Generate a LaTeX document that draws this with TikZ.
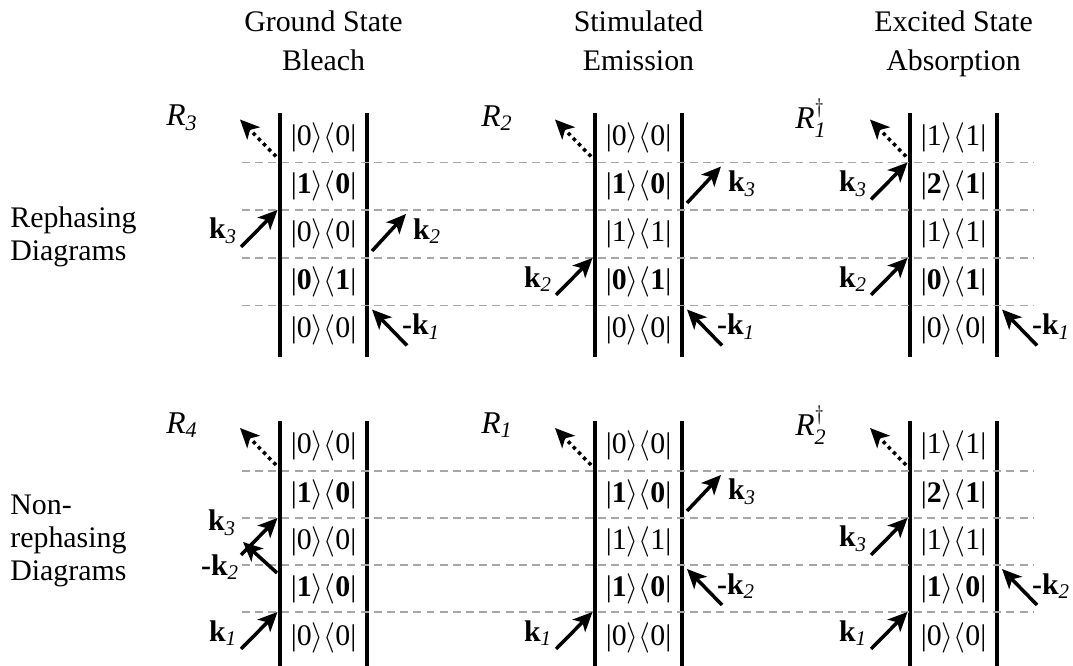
\documentclass[tikz,border=0pt]{standalone}
\usepackage{amsmath}
\usepackage{fontspec}
\setmainfont{Liberation Serif}
\usetikzlibrary{arrows.meta}

\newcommand{\kbr}[2]{|#1$\rangle\langle$#2|}

\tikzset{
  bar/.style={line width=2.3pt},
  rung/.style={gray!70, line width=0.6pt, dash pattern=on 4.5pt off 3pt},
  pulse/.style={-{Stealth[length=11pt,width=10pt,inset=2.8pt]}, line width=2pt},
  emit/.style={pulse, dash pattern=on 2pt off 2.2pt},
  ket/.style={font=\fontsize{17}{20}\selectfont},
  klab/.style={font=\fontsize{17}{20}\selectfont},
  rlab/.style={font=\fontsize{18}{21}\selectfont},
  head/.style={font=\fontsize{17}{22}\selectfont, align=center, anchor=north, inner sep=0pt},
  side/.style={font=\fontsize{17}{19}\selectfont, align=left, anchor=west, inner sep=0pt},
}

\begin{document}
\begin{tikzpicture}
\useasboundingbox (0,0) rectangle (21.46,13.32);

% column and row titles
\node[head] (gsb) at (6.47,13.24) {\strut Ground State\\Bleach};
\node[head] (se) at (12.77,13.24) {\strut Stimulated\\Emission};
\node[head] (esa) at (19.07,13.24) {\strut Excited State\\Absorption};
\node[side] (reph) at (0.2,8.58) {Rephasing\\Diagrams};
\node[side] (nonreph) at (0.2,2.50) {Non-\\rephasing\\Diagrams};

% double-sided bars
\draw[bar] (5.60,11.05) -- (5.60,6.18);
\draw[bar] (7.34,11.05) -- (7.34,6.18);
\draw[bar] (11.90,11.05) -- (11.90,6.18);
\draw[bar] (13.64,11.05) -- (13.64,6.18);
\draw[bar] (18.20,11.05) -- (18.20,6.18);
\draw[bar] (19.94,11.05) -- (19.94,6.18);
\draw[bar] (5.60,4.90) -- (5.60,0);
\draw[bar] (7.34,4.90) -- (7.34,0);
\draw[bar] (11.90,4.90) -- (11.90,0);
\draw[bar] (13.64,4.90) -- (13.64,0);
\draw[bar] (18.20,4.90) -- (18.20,0);
\draw[bar] (19.94,4.90) -- (19.94,0);

% time steps
\draw[rung] (4.84,10.07) -- (20.66,10.07);
\draw[rung] (4.84,9.12) -- (20.66,9.12);
\draw[rung] (4.84,8.16) -- (20.66,8.16);
\draw[rung] (4.84,7.21) -- (20.66,7.21);
\draw[rung] (4.84,3.90) -- (20.66,3.90);
\draw[rung] (4.84,2.96) -- (20.66,2.96);
\draw[rung] (4.84,2.02) -- (20.66,2.02);
\draw[rung] (4.84,1.08) -- (20.66,1.08);

% R3
\node[rlab] (r3) at (3.64,10.96) {$\textit{R}_{\textit{3}}$};
\node[ket] (r3a) at (6.47,10.56) {\kbr{0}{0}};
\node[ket] (r3b) at (6.47,9.595) {\kbr{\textbf{1}}{\textbf{0}}};
\node[ket] (r3c) at (6.47,8.64) {\kbr{0}{0}};
\node[ket] (r3d) at (6.47,7.685) {\kbr{\textbf{0}}{\textbf{1}}};
\node[ket] (r3e) at (6.47,6.72) {\kbr{0}{0}};
\coordinate (r3s) at (5.52,10.19);
\coordinate (r3se) at (4.80,10.93);
\draw[emit] (r3s) -- (r3se);
\coordinate (r3k3) at (4.82,8.38);
\coordinate (r3k3e) at (5.55,9.12);
\draw[pulse] (r3k3) -- (r3k3e);
\node[klab] (r3k3l) at (4.46,8.70) {$\textbf{k}_{\textit{3}}$};
\coordinate (r3k2) at (7.44,8.30);
\coordinate (r3k2e) at (8.12,9.04);
\draw[pulse] (r3k2) -- (r3k2e);
\node[klab] (r3k2l) at (8.54,8.70) {$\textbf{k}_{\textit{2}}$};
\coordinate (r3k1) at (8.14,6.41);
\coordinate (r3k1e) at (7.44,7.13);
\draw[pulse] (r3k1) -- (r3k1e);
\node[klab] (r3k1l) at (8.42,6.79) {\textbf{-k}$_{\textit{1}}$};

% R2
\node[rlab] (r2) at (9.94,10.96) {$\textit{R}_{\textit{2}}$};
\node[ket] (r2a) at (12.77,10.56) {\kbr{0}{0}};
\node[ket] (r2b) at (12.77,9.595) {\kbr{\textbf{1}}{\textbf{0}}};
\node[ket] (r2c) at (12.77,8.64) {\kbr{1}{1}};
\node[ket] (r2d) at (12.77,7.685) {\kbr{\textbf{0}}{\textbf{1}}};
\node[ket] (r2e) at (12.77,6.72) {\kbr{0}{0}};
\coordinate (r2s) at (11.82,10.19);
\coordinate (r2se) at (11.10,10.93);
\draw[emit] (r2s) -- (r2se);
\coordinate (r2k3) at (13.74,9.26);
\coordinate (r2k3e) at (14.42,9.99);
\draw[pulse] (r2k3) -- (r2k3e);
\node[klab] (r2k3l) at (14.84,9.65) {$\textbf{k}_{\textit{3}}$};
\coordinate (r2k2) at (11.12,7.42);
\coordinate (r2k2e) at (11.85,8.16);
\draw[pulse] (r2k2) -- (r2k2e);
\node[klab] (r2k2l) at (10.76,7.74) {$\textbf{k}_{\textit{2}}$};
\coordinate (r2k1) at (14.44,6.41);
\coordinate (r2k1e) at (13.74,7.13);
\draw[pulse] (r2k1) -- (r2k1e);
\node[klab] (r2k1l) at (14.72,6.79) {\textbf{-k}$_{\textit{1}}$};

% R1 dagger
\node[rlab] (r1d) at (16.22,10.96) {$\textit{R}^{\dagger}_{\textit{1}}$};
\node[ket] (r1da) at (19.07,10.56) {\kbr{1}{1}};
\node[ket] (r1db) at (19.07,9.595) {\kbr{\textbf{2}}{\textbf{1}}};
\node[ket] (r1dc) at (19.07,8.64) {\kbr{1}{1}};
\node[ket] (r1dd) at (19.07,7.685) {\kbr{\textbf{0}}{\textbf{1}}};
\node[ket] (r1de) at (19.07,6.72) {\kbr{0}{0}};
\coordinate (r1ds) at (18.12,10.19);
\coordinate (r1dse) at (17.40,10.93);
\draw[emit] (r1ds) -- (r1dse);
\coordinate (r1dk3) at (17.42,9.33);
\coordinate (r1dk3e) at (18.15,10.07);
\draw[pulse] (r1dk3) -- (r1dk3e);
\node[klab] (r1dk3l) at (17.06,9.65) {$\textbf{k}_{\textit{3}}$};
\coordinate (r1dk2) at (17.42,7.42);
\coordinate (r1dk2e) at (18.15,8.16);
\draw[pulse] (r1dk2) -- (r1dk2e);
\node[klab] (r1dk2l) at (17.06,7.74) {$\textbf{k}_{\textit{2}}$};
\coordinate (r1dk1) at (20.74,6.41);
\coordinate (r1dk1e) at (20.04,7.13);
\draw[pulse] (r1dk1) -- (r1dk1e);
\node[klab] (r1dk1l) at (21.02,6.79) {\textbf{-k}$_{\textit{1}}$};

% R4
\node[rlab] (r4) at (3.64,4.82) {$\textit{R}_{\textit{4}}$};
\node[ket] (r4a) at (6.47,4.40) {\kbr{0}{0}};
\node[ket] (r4b) at (6.47,3.43) {\kbr{\textbf{1}}{\textbf{0}}};
\node[ket] (r4c) at (6.47,2.49) {\kbr{0}{0}};
\node[ket] (r4d) at (6.47,1.55) {\kbr{\textbf{1}}{\textbf{0}}};
\node[ket] (r4e) at (6.47,0.56) {\kbr{0}{0}};
\coordinate (r4s) at (5.52,4.02);
\coordinate (r4se) at (4.80,4.76);
\draw[emit] (r4s) -- (r4se);
\coordinate (r4k3) at (4.82,2.22);
\coordinate (r4k3e) at (5.55,2.96);
\draw[pulse] (r4k3) -- (r4k3e);
\node[klab] (r4k3l) at (4.44,2.86) {$\textbf{k}_{\textit{3}}$};
\coordinate (r4k2) at (5.54,1.86);
\coordinate (r4k2e) at (4.86,2.48);
\draw[pulse] (r4k2) -- (r4k2e);
\node[klab] (r4k2l) at (4.40,1.98) {\textbf{-k}$_{\textit{2}}$};
\coordinate (r4k1) at (4.82,0.34);
\coordinate (r4k1e) at (5.55,1.08);
\draw[pulse] (r4k1) -- (r4k1e);
\node[klab] (r4k1l) at (4.46,0.66) {$\textbf{k}_{\textit{1}}$};

% R1
\node[rlab] (r1) at (9.94,4.82) {$\textit{R}_{\textit{1}}$};
\node[ket] (r1a) at (12.77,4.40) {\kbr{0}{0}};
\node[ket] (r1b) at (12.77,3.43) {\kbr{\textbf{1}}{\textbf{0}}};
\node[ket] (r1c) at (12.77,2.49) {\kbr{1}{1}};
\node[ket] (r1dd) at (12.77,1.55) {\kbr{\textbf{1}}{\textbf{0}}};
\node[ket] (r1e) at (12.77,0.56) {\kbr{0}{0}};
\coordinate (r1s) at (11.82,4.02);
\coordinate (r1se) at (11.10,4.76);
\draw[emit] (r1s) -- (r1se);
\coordinate (r1k3) at (13.74,3.10);
\coordinate (r1k3e) at (14.42,3.82);
\draw[pulse] (r1k3) -- (r1k3e);
\node[klab] (r1k3l) at (14.84,3.48) {$\textbf{k}_{\textit{3}}$};
\coordinate (r1k2) at (14.44,1.22);
\coordinate (r1k2e) at (13.74,1.94);
\draw[pulse] (r1k2) -- (r1k2e);
\node[klab] (r1k2l) at (14.72,1.60) {\textbf{-k}$_{\textit{2}}$};
\coordinate (r1k1) at (11.12,0.34);
\coordinate (r1k1e) at (11.85,1.08);
\draw[pulse] (r1k1) -- (r1k1e);
\node[klab] (r1k1l) at (10.76,0.66) {$\textbf{k}_{\textit{1}}$};

% R2 dagger
\node[rlab] (r2d) at (16.22,4.82) {$\textit{R}^{\dagger}_{\textit{2}}$};
\node[ket] (r2da) at (19.07,4.40) {\kbr{1}{1}};
\node[ket] (r2db) at (19.07,3.43) {\kbr{\textbf{2}}{\textbf{1}}};
\node[ket] (r2dc) at (19.07,2.49) {\kbr{1}{1}};
\node[ket] (r2dd) at (19.07,1.55) {\kbr{\textbf{1}}{\textbf{0}}};
\node[ket] (r2de) at (19.07,0.56) {\kbr{0}{0}};
\coordinate (r2ds) at (18.12,4.02);
\coordinate (r2dse) at (17.40,4.76);
\draw[emit] (r2ds) -- (r2dse);
\coordinate (r2dk3) at (17.42,2.22);
\coordinate (r2dk3e) at (18.15,2.96);
\draw[pulse] (r2dk3) -- (r2dk3e);
\node[klab] (r2dk3l) at (17.06,2.54) {$\textbf{k}_{\textit{3}}$};
\coordinate (r2dk2) at (20.74,1.22);
\coordinate (r2dk2e) at (20.04,1.94);
\draw[pulse] (r2dk2) -- (r2dk2e);
\node[klab] (r2dk2l) at (21.02,1.60) {\textbf{-k}$_{\textit{2}}$};
\coordinate (r2dk1) at (17.42,0.34);
\coordinate (r2dk1e) at (18.15,1.08);
\draw[pulse] (r2dk1) -- (r2dk1e);
\node[klab] (r2dk1l) at (17.06,0.66) {$\textbf{k}_{\textit{1}}$};
\end{tikzpicture}
\end{document}
